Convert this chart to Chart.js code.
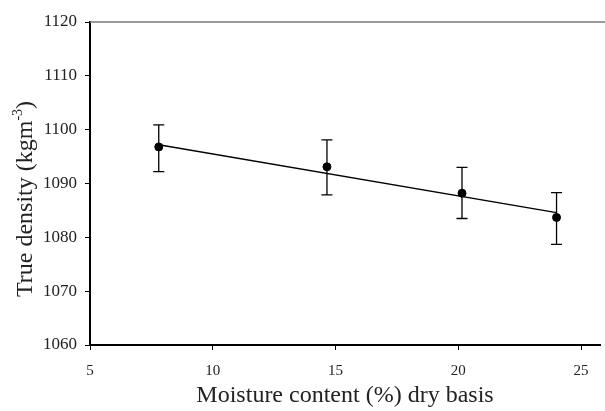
<!DOCTYPE html>
<html>
<head>
<meta charset="utf-8">
<script src="https://cdn.jsdelivr.net/npm/chart.js@4.4.1/dist/chart.umd.min.js"></script>
<style>
  html, body { margin: 0; padding: 0; background: #fff; }
  #chart { display: block; }
</style>
</head>
<body>
<canvas id="chart" width="605" height="411"></canvas>
<script>
// measured points (moisture % d.b. vs true density)
const moisture = [7.8, 14.65, 20.15, 24.0];
const density = [1096.8, 1093.1, 1088.2, 1083.7];
const densityLow = [1092.2, 1087.9, 1083.5, 1078.7];
const densityHigh = [1100.9, 1098.1, 1093.0, 1088.3];

// fitted line end points
const trendX = [7.8, 24.0];
const trendY = [1097.2, 1084.6];

const xTicks = [5, 10, 15, 20, 25];
const yTicks = [1060, 1070, 1080, 1090, 1100, 1110, 1120];

const serif = '"Liberation Serif", "Times New Roman", serif';

// error bars, drawn under the dots
const errorBars = {
    id: 'errorBars',
    beforeDatasetsDraw(chart) {
        const { ctx, scales: { x, y } } = chart;
        ctx.save();
        ctx.strokeStyle = '#000';
        ctx.lineWidth = 1.3;
        moisture.forEach((m, i) => {
            const px = x.getPixelForValue(m);
            const top = y.getPixelForValue(densityHigh[i]);
            const bot = y.getPixelForValue(densityLow[i]);
            ctx.beginPath();
            ctx.moveTo(px, top); ctx.lineTo(px, bot);
            ctx.moveTo(px - 5.5, top); ctx.lineTo(px + 5.5, top);
            ctx.moveTo(px - 5.5, bot); ctx.lineTo(px + 5.5, bot);
            ctx.stroke();
        });
        ctx.restore();
    }
};

// grey top frame line + y title with superscript
const frame = {
    id: 'frame',
    afterDraw(chart) {
        const { ctx, chartArea } = chart;
        ctx.save();
        ctx.strokeStyle = '#7a7a7a';
        ctx.lineWidth = 1.5;
        ctx.beginPath();
        ctx.moveTo(chartArea.left, chartArea.top);
        ctx.lineTo(chart.width, chartArea.top);
        ctx.stroke();

        ctx.translate(32, 199);
        ctx.rotate(-Math.PI / 2);
        ctx.fillStyle = '#222';
        ctx.textBaseline = 'alphabetic';
        const big = '24px ' + serif, small = '14px ' + serif;
        const p1 = 'True density (kgm', p2 = '-3', p3 = ')';
        ctx.font = big; const w1 = ctx.measureText(p1).width, w3 = ctx.measureText(p3).width;
        ctx.font = small; const w2 = ctx.measureText(p2).width;
        let sx = -(w1 + w2 + w3) / 2;
        ctx.font = big; ctx.fillText(p1, sx, 0); sx += w1;
        ctx.font = small; ctx.fillText(p2, sx, -10); sx += w2;
        ctx.font = big; ctx.fillText(p3, sx, 0);
        ctx.restore();
    }
};

new Chart(document.getElementById('chart'), {
    type: 'scatter',
    data: {
        datasets: [
            {
                label: 'Trend',
                data: trendX.map((v, i) => ({ x: v, y: trendY[i] })),
                showLine: true,
                borderColor: '#000',
                borderWidth: 1.4,
                pointRadius: 0,
                order: 2
            },
            {
                label: 'True density',
                data: moisture.map((v, i) => ({ x: v, y: density[i] })),
                backgroundColor: '#000',
                borderColor: '#000',
                pointRadius: 4,
                order: 1
            }
        ]
    },
    options: {
        responsive: false,
        animation: false,
        layout: { padding: { top: 22, right: 0, left: 0, bottom: 0 } },
        plugins: { legend: { display: false }, tooltip: { enabled: false } },
        scales: {
            x: {
                type: 'linear',
                min: 5,
                max: 25.77,
                afterBuildTicks: axis => { axis.ticks = xTicks.map(v => ({ value: v })); },
                afterFit: axis => { axis.height = 66; },
                border: { color: '#000', width: 2 },
                grid: { drawOnChartArea: false, color: '#000', tickLength: 5, tickWidth: 1 },
                ticks: { color: '#222', font: { family: serif, size: 15 }, padding: 12, maxRotation: 0, callback: v => String(v) },
                title: {
                    display: true,
                    text: 'Moisture content (%) dry basis',
                    color: '#222',
                    font: { family: serif, size: 24, lineHeight: 1 },
                    padding: { top: 0, bottom: 3 }
                }
            },
            y: {
                type: 'linear',
                min: 1060,
                max: 1120,
                afterBuildTicks: axis => { axis.ticks = yTicks.map(v => ({ value: v })); },
                afterFit: axis => { axis.width = 90; },
                border: { color: '#000', width: 2 },
                grid: { drawOnChartArea: false, color: '#000', tickLength: 5, tickWidth: 1 },
                ticks: { color: '#222', font: { family: serif, size: 17 }, padding: 8, callback: v => String(v) }
            }
        }
    },
    plugins: [errorBars, frame]
});
</script>
</body>
</html>
